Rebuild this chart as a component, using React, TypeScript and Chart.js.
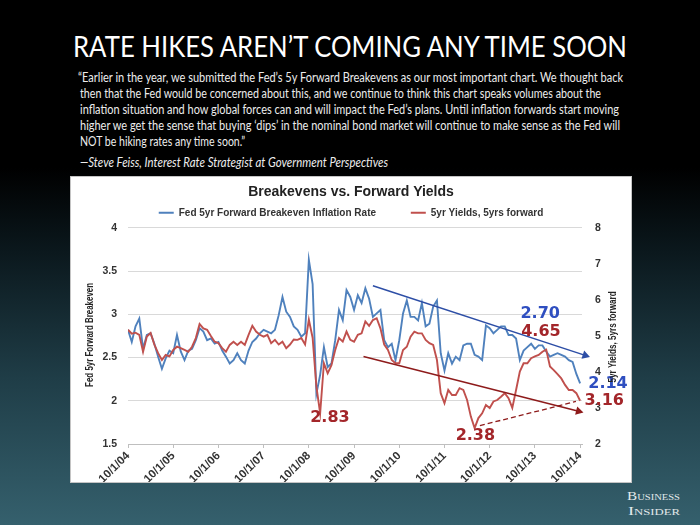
import React, { useEffect, useRef } from "react";
import { Chart, registerables } from "chart.js";

Chart.register(...registerables);

// ---------------- data ----------------
const xTickLabels = ["10/1/04", "10/1/05", "10/1/06", "10/1/07", "10/1/08", "10/1/09", "10/1/10", "10/1/11", "10/1/12", "10/1/13", "10/1/14"];
const tickMonths = [0, 12, 24, 36, 48, 60, 72, 84, 96, 108, 120];

const breakevenLabel = "Fed 5yr Forward Breakeven Inflation Rate";
const yieldsLabel = "5yr Yields, 5yrs forward";

// monthly, starting Oct 2004 (left axis, %)
const breakeven = [
  2.82, 2.68, 2.86, 2.95, 2.60, 2.76, 2.78, 2.66, 2.51, 2.37, 2.49, 2.58,
  2.55, 2.76, 2.57, 2.47, 2.58, 2.60, 2.70, 2.84, 2.80, 2.70, 2.72, 2.66,
  2.68, 2.58, 2.51, 2.43, 2.47, 2.55, 2.47, 2.43, 2.58, 2.68, 2.72, 2.78,
  2.82, 2.80, 2.78, 2.82, 2.99, 3.20, 3.03, 2.97, 2.86, 2.82, 2.74, 2.78,
  3.63, 3.35, 2.08, 2.30, 2.62, 2.39, 2.43, 2.70, 3.05, 2.93, 3.28, 3.20,
  3.05, 3.22, 3.13, 3.30, 3.18, 2.97, 3.01, 3.05, 2.70, 2.62, 2.66, 2.47,
  2.70, 3.01, 3.16, 2.97, 2.97, 2.93, 3.13, 2.86, 2.89, 3.09, 3.16, 2.55,
  2.35, 2.55, 2.43, 2.51, 2.47, 2.64, 2.66, 2.66, 2.53, 2.51, 2.47, 2.87,
  2.84, 2.78, 2.82, 2.86, 2.86, 2.76, 2.76, 2.72, 2.47, 2.58, 2.62, 2.66,
  2.60, 2.64, 2.64, 2.57, 2.51, 2.53, 2.55, 2.53, 2.51, 2.47, 2.45, 2.31,
  2.20,
];

// monthly, starting Oct 2004 (right axis, %)
const yields5y5y = [
  5.17, 5.06, 5.09, 5.03, 4.56, 4.98, 5.08, 4.76, 4.52, 4.33, 4.47, 4.43,
  4.61, 4.70, 4.66, 4.61, 4.56, 4.70, 4.94, 5.33, 5.21, 5.17, 5.00, 4.84,
  4.80, 4.66, 4.56, 4.75, 4.84, 4.75, 4.84, 4.75, 5.03, 5.28, 5.12, 5.03,
  4.98, 5.03, 4.80, 4.89, 4.76, 4.84, 4.66, 4.76, 4.90, 4.89, 4.94, 4.76,
  5.45, 4.95, 3.60, 2.85, 4.24, 3.96, 4.19, 4.61, 4.94, 4.84, 5.12, 4.89,
  4.84, 5.03, 5.07, 5.40, 5.28, 5.44, 5.49, 5.21, 4.76, 4.61, 4.33, 4.24,
  4.24, 4.61, 4.70, 4.98, 5.12, 5.07, 5.07, 4.89, 4.80, 4.75, 4.33, 3.41,
  3.13, 3.50, 3.36, 3.36, 3.55, 3.50, 3.22, 2.76, 2.44, 2.72, 2.85, 3.08,
  3.00, 3.18, 3.22, 3.31, 3.41, 3.27, 3.00, 3.50, 4.01, 4.24, 4.24, 4.38,
  4.43, 4.47, 4.56, 4.62, 4.15, 4.05, 3.94, 3.82, 3.64, 3.50, 3.50, 3.41,
  3.20,
];

// trend annotations (month index, value)
const blueTrendMonths = [65, 121.35];
const blueTrendValues = [3.33, 2.525];
const redTrendMonths = [62.5, 119.6];
const redTrendValues = [4.43, 2.91];
const redFloorMonths = [93.4, 118.9];
const redFloorValues = [2.51, 3.18];

// value call-outs (month index, left-axis level)
const calloutTexts = ["2.83", "2.38", "2.70", "4.65", "2.14", "3.16"];
const calloutMonths = [53.6, 92.2, 109.4, 109.6, 127.4, 126.4];
const calloutLevels = [1.80, 1.59, 3.0, 2.8, 2.19, 2.0];
const calloutSeries = ["yields", "yields", "breakeven", "yields", "breakeven", "yields"];

const leftAxisTitle = "Fed 5yr Forward Breakeven";
const rightAxisTitle = "5yr Yields, 5yrs forward";

const quoteLines = [
  "“Earlier in the year, we submitted the Fed’s 5y Forward Breakevens as our most important chart. We thought back",
  "then that the Fed would be concerned about this, and we continue to think this chart speaks volumes about the",
  "inflation situation and how global forces can and will impact the Fed’s plans. Until inflation forwards start moving",
  "higher we get the sense that buying ‘dips’ in the nominal bond market will continue to make sense as the Fed will",
  "NOT be hiking rates any time soon.”",
];
const quoteLineWidths = [545, 521, 539, 540, 165];
const attribution = "—Steve Feiss, Interest Rate Strategist at Government Perspectives";

// ---------------- styles ----------------
const BLUE = "#4f81bd";
const RED = "#c0504d";
const BLUE_DARK = "#2d4ea6";
const RED_DARK = "#8e1b1b";
const CALLOUT_COLORS: Record<string, string> = { breakeven: "#2f4fc0", yields: "#a3262a" };
const SANS = "'Liberation Sans', Arial, Helvetica, sans-serif";

const overlayPlugin = {
  id: "overlay",
  afterDatasetsDraw(chart: any) {
    const { ctx, chartArea, scales } = chart;
    ctx.save();
    ctx.font = "bold 16px 'DejaVu Sans', Verdana, sans-serif";
    ctx.textAlign = "center";
    ctx.textBaseline = "middle";
    calloutTexts.forEach((t, i) => {
      ctx.fillStyle = CALLOUT_COLORS[calloutSeries[i]];
      ctx.fillText(t, scales.x.getPixelForValue(calloutMonths[i]), scales.y.getPixelForValue(calloutLevels[i]));
    });
    const midY = (chartArea.top + chartArea.bottom) / 2;
    const drawVertical = (text: string, x: number, y: number, len: number) => {
      ctx.save();
      ctx.font = "bold 11px 'Liberation Sans Narrow', 'Liberation Sans', Arial, sans-serif";
      ctx.fillStyle = "#262626";
      ctx.textAlign = "center";
      ctx.textBaseline = "middle";
      const w = ctx.measureText(text).width;
      ctx.translate(x, y);
      ctx.rotate(-Math.PI / 2);
      ctx.scale(len / w, 1);
      ctx.fillText(text, 0, 0);
      ctx.restore();
    };
    drawVertical(leftAxisTitle, chartArea.left - 38, midY - 1, 104);
    drawVertical(rightAxisTitle, chartArea.right + 31, midY + 1, 91);
    ctx.restore();
  },
};

export default function App() {
  const canvasRef = useRef<HTMLCanvasElement>(null);

  useEffect(() => {
    document.body.style.margin = "0";
    const toPts = (xs: number[], ys: number[]) => xs.map((x, i) => ({ x, y: ys[i] }));
    const months = breakeven.map((_, i) => i);

    const chart = new Chart(canvasRef.current as HTMLCanvasElement, {
      type: "line",
      data: {
        datasets: [
          {
            label: breakevenLabel,
            data: toPts(months, breakeven),
            borderColor: BLUE,
            backgroundColor: BLUE,
            borderWidth: 1.9,
            pointRadius: 0,
            yAxisID: "y",
            order: 2,
          },
          {
            label: yieldsLabel,
            data: toPts(months, yields5y5y),
            borderColor: RED,
            backgroundColor: RED,
            borderWidth: 1.9,
            pointRadius: 0,
            yAxisID: "y1",
            order: 1,
          },
          {
            label: "trend-blue",
            data: toPts(blueTrendMonths, blueTrendValues),
            borderColor: BLUE_DARK,
            backgroundColor: BLUE_DARK,
            borderWidth: 1.5,
            pointRadius: [0, 5],
            pointStyle: "triangle",
            pointRotation: [0, 108],
            pointBorderWidth: 0,
            yAxisID: "y",
            clip: false,
            order: 0,
          },
          {
            label: "trend-red",
            data: toPts(redTrendMonths, redTrendValues),
            borderColor: RED_DARK,
            backgroundColor: RED_DARK,
            borderWidth: 1.5,
            pointRadius: [0, 5],
            pointStyle: "triangle",
            pointRotation: [0, 104],
            pointBorderWidth: 0,
            yAxisID: "y1",
            clip: false,
            order: 0,
          },
          {
            label: "floor-red",
            data: toPts(redFloorMonths, redFloorValues),
            borderColor: RED_DARK,
            backgroundColor: RED_DARK,
            borderWidth: 1.3,
            borderDash: [5, 3],
            pointRadius: 0,
            yAxisID: "y1",
            clip: false,
            order: 0,
          },
        ],
      } as any,
      plugins: [overlayPlugin],
      options: {
        responsive: false,
        devicePixelRatio: 1,
        animation: false,
        events: [],
        layout: { padding: { top: 2, left: 0, right: 0, bottom: 0 } },
        plugins: {
          title: {
            display: true,
            text: "Breakevens vs. Forward Yields",
            color: "#222",
            font: { family: SANS, size: 14, weight: "bold" },
            padding: { top: 5, bottom: 0 },
          },
          legend: {
            display: true,
            labels: {
              color: "#333",
              font: { family: SANS, size: 10, weight: "bold" },
              boxWidth: 15,
              boxHeight: 2,
              padding: 7,
              generateLabels: (c: any) =>
                Chart.defaults.plugins.legend.labels
                  .generateLabels(c)
                  .filter((it: any) => it.datasetIndex < 2)
                  .sort((a: any, b: any) => a.datasetIndex - b.datasetIndex)
                  .map((it: any) => ({
                    ...it,
                    text: it.datasetIndex === 0 ? it.text + "\u00a0".repeat(10) : it.text,
                    fillStyle: it.strokeStyle,
                    lineWidth: 0,
                  })),
            },
          },
          tooltip: { enabled: false },
        },
        scales: {
          x: {
            type: "linear",
            min: 0,
            max: 120.5,
            afterBuildTicks: (s: any) => {
              s.ticks = tickMonths.map((v) => ({ value: v }));
            },
            afterFit: (s: any) => {
              s.height = 38;
            },
            ticks: {
              autoSkip: false,
              minRotation: 45,
              maxRotation: 45,
              padding: 1,
              color: "#333",
              font: { family: SANS, size: 11.5, weight: "bold" },
              callback: (v: any) => xTickLabels[tickMonths.indexOf(Number(v))] ?? "",
            },
            grid: { display: true, drawOnChartArea: false, drawTicks: true, tickLength: 4, color: "#bfbfbf" },
            border: { display: true, color: "#bfbfbf" },
          },
          y: {
            type: "linear",
            position: "left",
            min: 1.5,
            max: 4,
            afterFit: (s: any) => {
              s.width = 57;
            },
            ticks: {
              stepSize: 0.5,
              padding: 11,
              color: "#333",
              font: { family: SANS, size: 10.5, weight: "bold" },
              callback: (v: any) => String(Number(v)),
            },
            grid: { color: "#d9d9d9", drawTicks: false },
            border: { display: false },
          },
          y1: {
            type: "linear",
            position: "right",
            min: 2,
            max: 8,
            afterFit: (s: any) => {
              s.width = 49;
            },
            ticks: {
              stepSize: 1,
              padding: 13,
              color: "#333",
              font: { family: SANS, size: 10.5, weight: "bold" },
              callback: (v: any) => String(Number(v)),
            },
            grid: { drawOnChartArea: false, drawTicks: false },
            border: { display: false },
          },
        },
      } as any,
    });
    return () => chart.destroy();
  }, []);

  return (
    <div
      style={{
        position: "relative",
        width: 700,
        height: 525,
        overflow: "hidden",
        background: "linear-gradient(180deg, #000 0%, #000 32%, #0b181d 48%, #1f3d47 72%, #35606d 100%)",
      }}
    >
      <svg width={700} height={525} style={{ position: "absolute", left: 0, top: 0 }}>
        <text
          x={350}
          y={57}
          textAnchor="middle"
          fontFamily="Lato, 'Open Sans', sans-serif"
          fontSize={28}
          fill="#ffffff"
          textLength={554}
          lengthAdjust="spacingAndGlyphs"
        >
          RATE HIKES AREN’T COMING ANY TIME SOON
        </text>
        {quoteLines.map((line, i) => (
          <text
            key={i}
            x={i === 0 ? 78 : 80}
            y={82 + i * 16}
            fontFamily="Lato, 'Open Sans', sans-serif"
            fontSize={12.5}
            fill="#ececec"
            textLength={quoteLineWidths[i]}
            lengthAdjust="spacingAndGlyphs"
          >
            {line}
          </text>
        ))}
        <text
          x={80}
          y={167}
          fontFamily="Lato, 'Open Sans', sans-serif"
          fontSize={12.5}
          fontStyle="italic"
          fill="#ececec"
          textLength={308}
          lengthAdjust="spacingAndGlyphs"
        >
          {attribution}
        </text>
        <text
          x={627}
          y={500}
          fontFamily="'Liberation Serif', 'DejaVu Serif', serif"
          fontSize={13}
          fill="#e2e9eb"
          textLength={53}
          lengthAdjust="spacingAndGlyphs"
          style={{ fontVariant: "small-caps" }}
        >
          Business
        </text>
        <text
          x={628}
          y={515}
          fontFamily="'Liberation Serif', 'DejaVu Serif', serif"
          fontSize={13}
          fill="#e2e9eb"
          textLength={52}
          lengthAdjust="spacingAndGlyphs"
          style={{ fontVariant: "small-caps" }}
        >
          Insider
        </text>
      </svg>
      <div
        style={{
          position: "absolute",
          left: 70,
          top: 176,
          width: 562,
          height: 307,
          background: "#ffffff",
          border: "1px solid #c4c4c4",
          boxSizing: "border-box",
        }}
      >
        <canvas ref={canvasRef} width={560} height={305} style={{ display: "block", width: 560, height: 305 }} />
      </div>
    </div>
  );
}
